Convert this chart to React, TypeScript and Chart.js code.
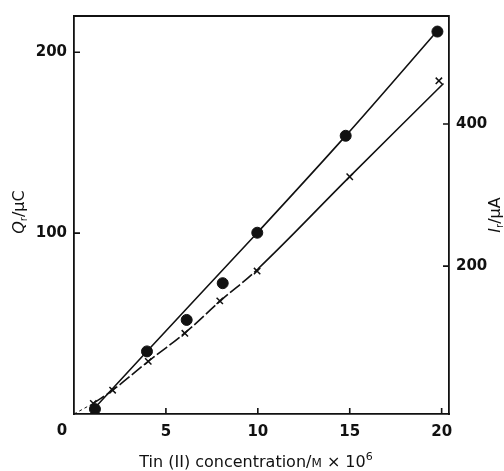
import React, { useEffect, useRef } from 'react';
import { Chart, registerables } from 'chart.js';

Chart.register(...registerables);

// Charge Q_r (µC, left axis) against tin(II) concentration
const chargeConc = [1.14, 3.97, 6.13, 8.09, 9.97, 14.78, 19.77];
const chargeQ = [2.7, 34.6, 52.0, 72.3, 100.2, 153.8, 211.4];
// hand-drawn fitted curve through the charge points
const chargeFitConc = [1.1, 4.0, 10.0, 14.8, 19.9];
const chargeFitQ = [3, 35, 100.5, 154, 213.4];

// Current I_r (µA, right axis) against tin(II) concentration
const currentConc = [1.05, 2.1, 4.04, 6.03, 7.93, 9.96, 15.0, 19.85];
const currentI = [6.9, 25.5, 66, 105.5, 151.2, 193.1, 325.8, 460.8];
// hand-drawn fitted curve through the current points
const currentFitConc = [1.05, 2.1, 4.04, 6.03, 8.0, 10.0, 15.0, 20.1];
const currentFitI = [6.9, 25.5, 66, 106, 152, 196, 326, 457];

// dashed extrapolation to the origin
const originConc = [0, 1.05];
const originQ = [0, 5.9];

const xTicks = [0, 5, 10, 15, 20];
const qTicks = [100, 200];
const iTicks = [200, 400];

const INK = '#111';
const FAMILY = '"DejaVu Sans", "Liberation Sans", Arial, sans-serif';

type Part = { text: string; size: number; style?: string; dy?: number };

function drawRich(ctx: CanvasRenderingContext2D, parts: Part[], cx: number, cy: number, rotate: boolean) {
  ctx.save();
  ctx.translate(cx, cy);
  if (rotate) ctx.rotate(-Math.PI / 2);
  ctx.fillStyle = INK;
  ctx.textBaseline = 'middle';
  ctx.textAlign = 'left';
  const fontOf = (p: Part) => `${p.style || ''} ${p.size}px ${FAMILY}`;
  let total = 0;
  const widths = parts.map((p) => {
    ctx.font = fontOf(p);
    const w = ctx.measureText(p.text).width;
    total += w;
    return w;
  });
  let x = -total / 2;
  parts.forEach((p, i) => {
    ctx.font = fontOf(p);
    ctx.fillText(p.text, x, p.dy || 0);
    x += widths[i];
  });
  ctx.restore();
}

const frameAndLabels = {
  id: 'frameAndLabels',
  afterDraw(chart: any) {
    const { ctx, chartArea: a, scales } = chart;
    const tl = 6;
    ctx.save();
    ctx.strokeStyle = INK;
    ctx.lineWidth = 1.8;
    ctx.beginPath();
    ctx.moveTo(a.left, a.top);
    ctx.lineTo(a.right, a.top);
    ctx.stroke();

    // inward tick marks
    ctx.lineWidth = 1.6;
    ctx.beginPath();
    scales.x.ticks.forEach((t: any) => {
      if (t.value === 0) return;
      const px = scales.x.getPixelForValue(t.value);
      ctx.moveTo(px, a.bottom);
      ctx.lineTo(px, a.bottom - tl);
    });
    scales.y.ticks.forEach((t: any) => {
      const py = scales.y.getPixelForValue(t.value);
      ctx.moveTo(a.left, py);
      ctx.lineTo(a.left + tl, py);
    });
    scales.y1.ticks.forEach((t: any) => {
      const py = scales.y1.getPixelForValue(t.value);
      ctx.moveTo(a.right, py);
      ctx.lineTo(a.right - tl, py);
    });
    ctx.stroke();

    // shared zero at the corner
    ctx.fillStyle = INK;
    ctx.font = `bold 15px ${FAMILY}`;
    ctx.textAlign = 'center';
    ctx.textBaseline = 'middle';
    ctx.fillText('0', scales.x.getPixelForValue(0) - 12, a.bottom + 17);
    ctx.restore();

    // axis titles
    drawRich(ctx, [
      { text: 'Q', size: 16, style: 'italic' },
      { text: 'r', size: 10, dy: 4 },
      { text: '/µC', size: 16 },
    ], 20, 212, true);
    drawRich(ctx, [
      { text: 'I', size: 16, style: 'italic' },
      { text: 'r', size: 10, dy: 4 },
      { text: '/µA', size: 16 },
    ], 496, 215, true);
    drawRich(ctx, [
      { text: 'Tin (II) concentration/', size: 16 },
      { text: 'M', size: 12, dy: 1 },
      { text: ' × 10', size: 16 },
      { text: '6', size: 11, dy: -6 },
    ], 256, 463, false);
  },
};

const pts = (xs: number[], ys: number[]) => xs.map((x, i) => ({ x, y: ys[i] }));

export default function App() {
  const ref = useRef<HTMLCanvasElement | null>(null);

  useEffect(() => {
    if (!ref.current) return;
    const tickFont = { family: FAMILY, size: 15, weight: 'bold' as const };
    const chart = new Chart(ref.current, {
      type: 'scatter',
      data: {
        datasets: [
          {
            label: 'Q points',
            data: pts(chargeConc, chargeQ),
            yAxisID: 'y',
            pointStyle: 'circle',
            pointRadius: 5.5,
            backgroundColor: INK,
            borderColor: INK,
            showLine: false,
          },
          {
            label: 'I points',
            data: pts(currentConc, currentI),
            yAxisID: 'y1',
            pointStyle: 'crossRot',
            pointRadius: 4.5,
            borderWidth: 1.5,
            borderColor: INK,
            showLine: false,
          },
          {
            label: 'Q fit',
            data: pts(chargeFitConc, chargeFitQ),
            yAxisID: 'y',
            showLine: true,
            pointRadius: 0,
            borderColor: INK,
            borderWidth: 1.6,
            cubicInterpolationMode: 'monotone',
          },
          {
            label: 'I fit',
            data: pts(currentFitConc, currentFitI),
            yAxisID: 'y1',
            showLine: true,
            pointRadius: 0,
            borderColor: INK,
            borderWidth: 1.6,
            tension: 0.4,
            segment: {
              borderDash: (c: any) => (c.p0.parsed.x < 9.9 ? [13, 3] : undefined),
            },
          },
          {
            label: 'origin',
            data: pts(originConc, originQ),
            yAxisID: 'y',
            showLine: true,
            pointRadius: 0,
            borderColor: INK,
            borderWidth: 1,
            borderDash: [3, 3],
          },
        ],
      },
      options: {
        animation: false,
        responsive: true,
        maintainAspectRatio: false,
        layout: { padding: { top: 13, left: 0, right: 0, bottom: 0 } },
        plugins: { legend: { display: false }, tooltip: { enabled: false } },
        scales: {
          x: {
            type: 'linear',
            min: 0,
            max: 20.4,
            grid: { display: false, drawTicks: false },
            border: { display: true, color: INK, width: 1.8 },
            afterBuildTicks: (s: any) => { s.ticks = xTicks.map((v) => ({ value: v })); },
            afterFit: (s: any) => { s.height = 57; },
            ticks: {
              color: INK,
              font: tickFont,
              padding: 9,
              maxRotation: 0,
              callback: (v: any) => (v === 0 ? '' : String(v)),
            },
          },
          y: {
            type: 'linear',
            position: 'left',
            min: 0,
            max: 220,
            grid: { display: false, drawTicks: false },
            border: { display: true, color: INK, width: 1.8 },
            afterBuildTicks: (s: any) => { s.ticks = qTicks.map((v) => ({ value: v })); },
            afterFit: (s: any) => { s.width = 74; },
            ticks: { color: INK, font: tickFont, padding: 7 },
          },
          y1: {
            type: 'linear',
            position: 'right',
            min: -8,
            max: 552,
            grid: { display: false, drawTicks: false },
            border: { display: true, color: INK, width: 1.8 },
            afterBuildTicks: (s: any) => { s.ticks = iTicks.map((v) => ({ value: v })); },
            afterFit: (s: any) => { s.width = 55; },
            ticks: { color: INK, font: tickFont, padding: 7 },
          },
        },
      },
      plugins: [frameAndLabels],
    });
    return () => chart.destroy();
  }, []);

  return (
    <div style={{ position: 'absolute', left: 0, top: 0, width: 504, height: 471, background: '#fff' }}>
      <canvas ref={ref} />
    </div>
  );
}
